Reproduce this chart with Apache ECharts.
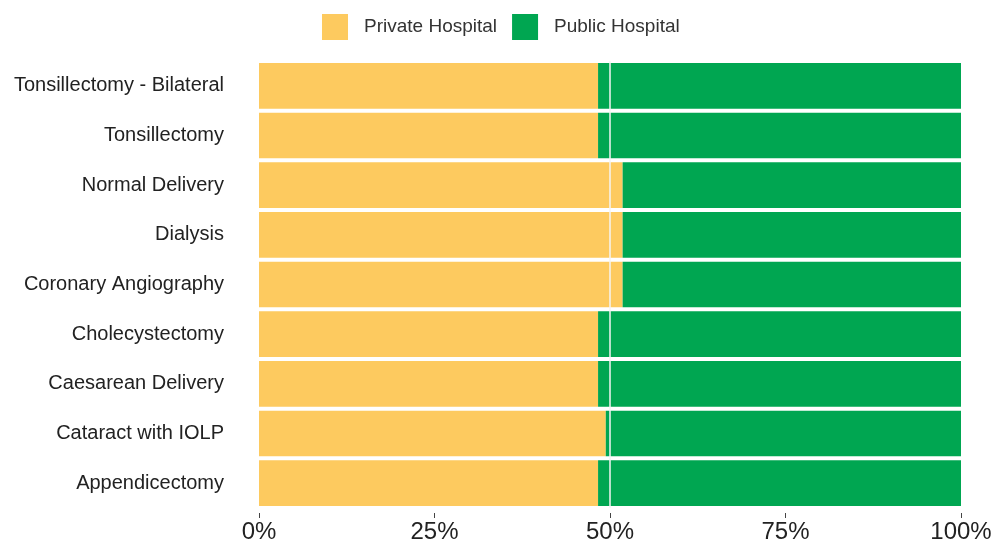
<!DOCTYPE html>
<html>
<head>
<meta charset="utf-8">
<script src="https://cdn.jsdelivr.net/npm/echarts@6/dist/echarts.min.js"></script>
<style>
  html, body { margin: 0; padding: 0; background: #ffffff; }
  #chart { width: 997px; height: 544px; }
</style>
</head>
<body>
<div id="chart"></div>
<script>
// Procedures, listed top to bottom
const procedures = [
  'Tonsillectomy - Bilateral',
  'Tonsillectomy',
  'Normal Delivery',
  'Dialysis',
  'Coronary Angiography',
  'Cholecystectomy',
  'Caesarean Delivery',
  'Cataract with IOLP',
  'Appendicectomy'
];

// Share of cases (%) by hospital type
const privateShare = [48.3, 48.3, 51.8, 51.8, 51.8, 48.3, 48.3, 49.4, 48.3];
const publicShare  = [51.7, 51.7, 48.2, 48.2, 48.2, 51.7, 51.7, 50.6, 51.7];

const xTicks = [0, 25, 50, 75, 100];

const chart = echarts.init(document.getElementById('chart'));

chart.setOption({
  animation: false,
  backgroundColor: '#ffffff',
  legend: {
    top: 9,
    left: 317,
    itemWidth: 26,
    itemHeight: 26,
    itemGap: 15,
    icon: 'rect',
    textStyle: { fontFamily: 'Liberation Sans, Arial, sans-serif', fontSize: 19, color: '#333333', padding: [0, 0, 0, 11] },
    data: ['Private Hospital', 'Public Hospital']
  },
  grid: { left: 259, right: 36, top: 61, bottom: 35 },
  xAxis: {
    type: 'value',
    min: xTicks[0],
    max: xTicks[xTicks.length - 1],
    interval: xTicks[1] - xTicks[0],
    offset: 5,
    axisLine: { show: false },
    axisTick: { show: true, length: 5, lineStyle: { color: '#444444', width: 1 } },
    splitLine: { show: false },
    axisLabel: {
      margin: 7,
      formatter: '{value}%',
      fontFamily: 'Liberation Sans, Arial, sans-serif',
      fontSize: 24,
      color: '#222222'
    }
  },
  yAxis: {
    type: 'category',
    inverse: true,
    data: procedures,
    axisLine: { show: false },
    axisTick: { show: false },
    axisLabel: {
      margin: 35,
      padding: [4, 0, 0, 0],
      fontFamily: 'Liberation Sans, Arial, sans-serif',
      fontSize: 20,
      color: '#222222'
    }
  },
  series: [
    {
      name: 'Private Hospital',
      type: 'bar',
      stack: 'share',
      barCategoryGap: '8%',
      itemStyle: { color: '#FDCA5F' },
      data: privateShare
    },
    {
      name: 'Public Hospital',
      type: 'bar',
      stack: 'share',
      barCategoryGap: '8%',
      itemStyle: { color: '#00A651' },
      data: publicShare,
      markLine: {
        silent: true,
        symbol: ['none', 'none'],
        label: { show: false },
        lineStyle: { color: '#f4f4f4', width: 1.5, type: 'solid' },
        data: [{ xAxis: 50 }]
      }
    }
  ]
});
</script>
</body>
</html>
